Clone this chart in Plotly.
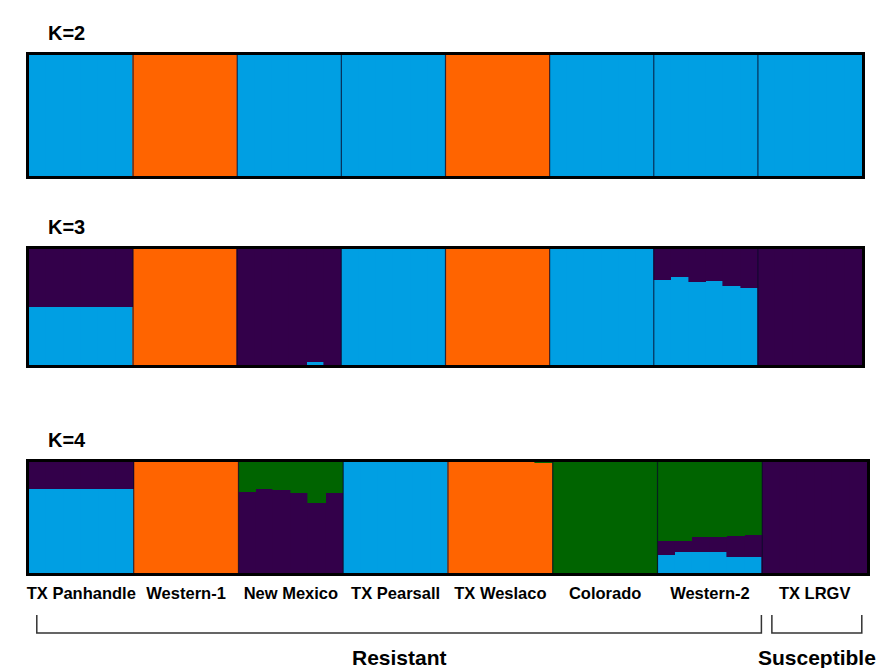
import plotly.graph_objects as go

# Populations (6 sampled individuals each) and STRUCTURE ancestry proportions
populations = ["TX Panhandle", "Western-1", "New Mexico", "TX Pearsall",
               "TX Weslaco", "Colorado", "Western-2", "TX LRGV"]
n_ind = 6
groups = ["Resistant", "Susceptible"]
group_sizes = [7, 1]

# K=2
k2_blue = [1.00, 1.00, 1.00, 1.00, 1.00, 1.00,
           0.00, 0.00, 0.00, 0.00, 0.00, 0.00,
           1.00, 1.00, 1.00, 1.00, 1.00, 1.00,
           1.00, 1.00, 1.00, 1.00, 1.00, 1.00,
           0.00, 0.00, 0.00, 0.00, 0.00, 0.00,
           1.00, 1.00, 1.00, 1.00, 1.00, 1.00,
           1.00, 1.00, 1.00, 1.00, 1.00, 1.00,
           1.00, 1.00, 1.00, 1.00, 1.00, 1.00]
k2_orange = [0.00, 0.00, 0.00, 0.00, 0.00, 0.00,
             1.00, 1.00, 1.00, 1.00, 1.00, 1.00,
             0.00, 0.00, 0.00, 0.00, 0.00, 0.00,
             0.00, 0.00, 0.00, 0.00, 0.00, 0.00,
             1.00, 1.00, 1.00, 1.00, 1.00, 1.00,
             0.00, 0.00, 0.00, 0.00, 0.00, 0.00,
             0.00, 0.00, 0.00, 0.00, 0.00, 0.00,
             0.00, 0.00, 0.00, 0.00, 0.00, 0.00]

# K=3
k3_blue = [0.50, 0.50, 0.50, 0.50, 0.50, 0.50,
           0.00, 0.00, 0.00, 0.00, 0.00, 0.00,
           0.00, 0.00, 0.00, 0.00, 0.03, 0.00,
           1.00, 1.00, 1.00, 1.00, 1.00, 1.00,
           0.00, 0.00, 0.00, 0.00, 0.00, 0.00,
           1.00, 1.00, 1.00, 1.00, 1.00, 1.00,
           0.73, 0.755, 0.713, 0.72, 0.68, 0.66,
           0.00, 0.00, 0.00, 0.00, 0.00, 0.00]
k3_orange = [0.00, 0.00, 0.00, 0.00, 0.00, 0.00,
             1.00, 1.00, 1.00, 1.00, 1.00, 1.00,
             0.00, 0.00, 0.00, 0.00, 0.00, 0.00,
             0.00, 0.00, 0.00, 0.00, 0.00, 0.00,
             1.00, 1.00, 1.00, 1.00, 1.00, 1.00,
             0.00, 0.00, 0.00, 0.00, 0.00, 0.00,
             0.00, 0.00, 0.00, 0.00, 0.00, 0.00,
             0.00, 0.00, 0.00, 0.00, 0.00, 0.00]
k3_purple = [0.50, 0.50, 0.50, 0.50, 0.50, 0.50,
             0.00, 0.00, 0.00, 0.00, 0.00, 0.00,
             1.00, 1.00, 1.00, 1.00, 0.97, 1.00,
             0.00, 0.00, 0.00, 0.00, 0.00, 0.00,
             0.00, 0.00, 0.00, 0.00, 0.00, 0.00,
             0.00, 0.00, 0.00, 0.00, 0.00, 0.00,
             0.27, 0.245, 0.287, 0.28, 0.32, 0.34,
             1.00, 1.00, 1.00, 1.00, 1.00, 1.00]

# K=4
k4_blue = [0.76, 0.76, 0.76, 0.76, 0.76, 0.76,
           0.00, 0.00, 0.00, 0.00, 0.00, 0.00,
           0.00, 0.00, 0.00, 0.00, 0.00, 0.00,
           1.00, 1.00, 1.00, 1.00, 1.00, 1.00,
           0.00, 0.00, 0.00, 0.00, 0.00, 0.00,
           0.00, 0.00, 0.00, 0.00, 0.00, 0.00,
           0.16, 0.19, 0.19, 0.19, 0.14, 0.14,
           0.00, 0.00, 0.00, 0.00, 0.00, 0.00]
k4_orange = [0.00, 0.00, 0.00, 0.00, 0.00, 0.00,
             1.00, 1.00, 1.00, 1.00, 1.00, 1.00,
             0.00, 0.00, 0.00, 0.00, 0.00, 0.00,
             0.00, 0.00, 0.00, 0.00, 0.00, 0.00,
             1.00, 1.00, 1.00, 1.00, 1.00, 0.99,
             0.00, 0.00, 0.00, 0.00, 0.00, 0.00,
             0.00, 0.00, 0.00, 0.00, 0.00, 0.00,
             0.00, 0.00, 0.00, 0.00, 0.00, 0.00]
k4_purple = [0.24, 0.24, 0.24, 0.24, 0.24, 0.24,
             0.00, 0.00, 0.00, 0.00, 0.00, 0.00,
             0.73, 0.76, 0.75, 0.72, 0.63, 0.725,
             0.00, 0.00, 0.00, 0.00, 0.00, 0.00,
             0.00, 0.00, 0.00, 0.00, 0.00, 0.00,
             0.00, 0.00, 0.00, 0.00, 0.00, 0.00,
             0.125, 0.10, 0.13, 0.13, 0.19, 0.20,
             1.00, 1.00, 1.00, 1.00, 1.00, 1.00]
k4_green = [0.00, 0.00, 0.00, 0.00, 0.00, 0.00,
            0.00, 0.00, 0.00, 0.00, 0.00, 0.00,
            0.27, 0.24, 0.25, 0.28, 0.37, 0.275,
            0.00, 0.00, 0.00, 0.00, 0.00, 0.00,
            0.00, 0.00, 0.00, 0.00, 0.00, 0.01,
            1.00, 1.00, 1.00, 1.00, 1.00, 1.00,
            0.715, 0.71, 0.68, 0.68, 0.67, 0.66,
            0.00, 0.00, 0.00, 0.00, 0.00, 0.00]

BLUE = "#009FE3"
ORANGE = "#FF6400"
PURPLE = "#33004A"
GREEN = "#006400"

panels = [
    ("K=2", [(k2_blue, BLUE), (k2_orange, ORANGE)]),
    ("K=3", [(k3_blue, BLUE), (k3_orange, ORANGE), (k3_purple, PURPLE)]),
    ("K=4", [(k4_blue, BLUE), (k4_orange, ORANGE), (k4_purple, PURPLE), (k4_green, GREEN)]),
]

W, H = 883, 668
# panel boxes in pixels: (left, right, top, bottom)
boxes = [(27, 862, 55, 176), (27, 862, 249, 365), (27, 867, 462, 573)]

n_total = len(populations) * n_ind
x_ind = list(range(n_total))

fig = go.Figure()
layout = {}
shapes = []
annotations = []
for p, ((title, comps), (l, r, t, b)) in enumerate(zip(panels, boxes)):
    sfx = "" if p == 0 else str(p + 1)
    for vals, col in comps:
        fig.add_trace(go.Bar(
            x=x_ind, y=vals, width=1.0, marker=dict(color=col, line=dict(width=0.6, color=col)),
            xaxis="x" + sfx, yaxis="y" + sfx, showlegend=False, hoverinfo="skip"))
    layout["xaxis" + sfx] = dict(
        domain=[l / W, r / W], range=[-0.5, n_total - 0.5], anchor="y" + sfx,
        showgrid=False, zeroline=False, showline=True, mirror=True,
        linewidth=3, linecolor="black", ticks="", showticklabels=False, fixedrange=True)
    layout["yaxis" + sfx] = dict(
        domain=[1 - b / H, 1 - t / H], range=[0, 1], anchor="x" + sfx,
        showgrid=False, zeroline=False, showline=True, mirror=True,
        linewidth=3, linecolor="black", ticks="", showticklabels=False, fixedrange=True)
    # population separators
    for k in range(1, len(populations)):
        xb = k * n_ind - 0.5
        shapes.append(dict(type="line", xref="x" + sfx, yref="y" + sfx,
                           x0=xb, x1=xb, y0=0, y1=1,
                           line=dict(color="rgba(10,10,40,0.75)", width=1.2)))
    annotations.append(dict(text="<b>" + title + "</b>", xref="paper", yref="paper",
                            x=44 / W, y=1 - (t - 22) / H, xanchor="left", yanchor="middle",
                            showarrow=False, font=dict(size=20, color="black")))

# population names under the last panel
layout["xaxis3"].update(
    showticklabels=True,
    tickvals=[i * n_ind + (n_ind - 1) / 2 for i in range(len(populations))],
    ticktext=["<b>" + s + "</b>" for s in populations],
    tickfont=dict(size=16.5, color="black", family="Liberation Sans, Arial, sans-serif"),
    tickangle=0, ticklabelstandoff=3)

# brackets for resistant / susceptible groups
y_top = 1 - 615 / H
y_bot = 1 - 633 / H
start = 0
insets = [(0.45, 0.05), (0.55, 0.3)]
for g, size, (il, ir) in zip(groups, group_sizes, insets):
    x0 = start * n_ind - 0.5 + il
    x1 = (start + size) * n_ind - 0.5 - ir
    shapes.append(dict(type="path", xref="x3", yref="paper",
                       path=f"M {x0},{y_top} L {x0},{y_bot} L {x1},{y_bot} L {x1},{y_top}",
                       line=dict(color="#333333", width=1.5)))
    annotations.append(dict(text="<b>" + g + "</b>", xref="x3", yref="paper",
                            x=(x0 + x1) / 2, y=1 - 657 / H, xanchor="center", yanchor="middle",
                            showarrow=False, font=dict(size=21, color="black")))
    start += size

fig.update_layout(
    width=W, height=H, margin=dict(l=0, r=0, t=0, b=0),
    paper_bgcolor="white", plot_bgcolor="white",
    barmode="stack", bargap=0, showlegend=False,
    font=dict(family="Liberation Sans, Arial, sans-serif", color="black"),
    shapes=shapes, annotations=annotations, **layout)

fig.write_html("out.html")
